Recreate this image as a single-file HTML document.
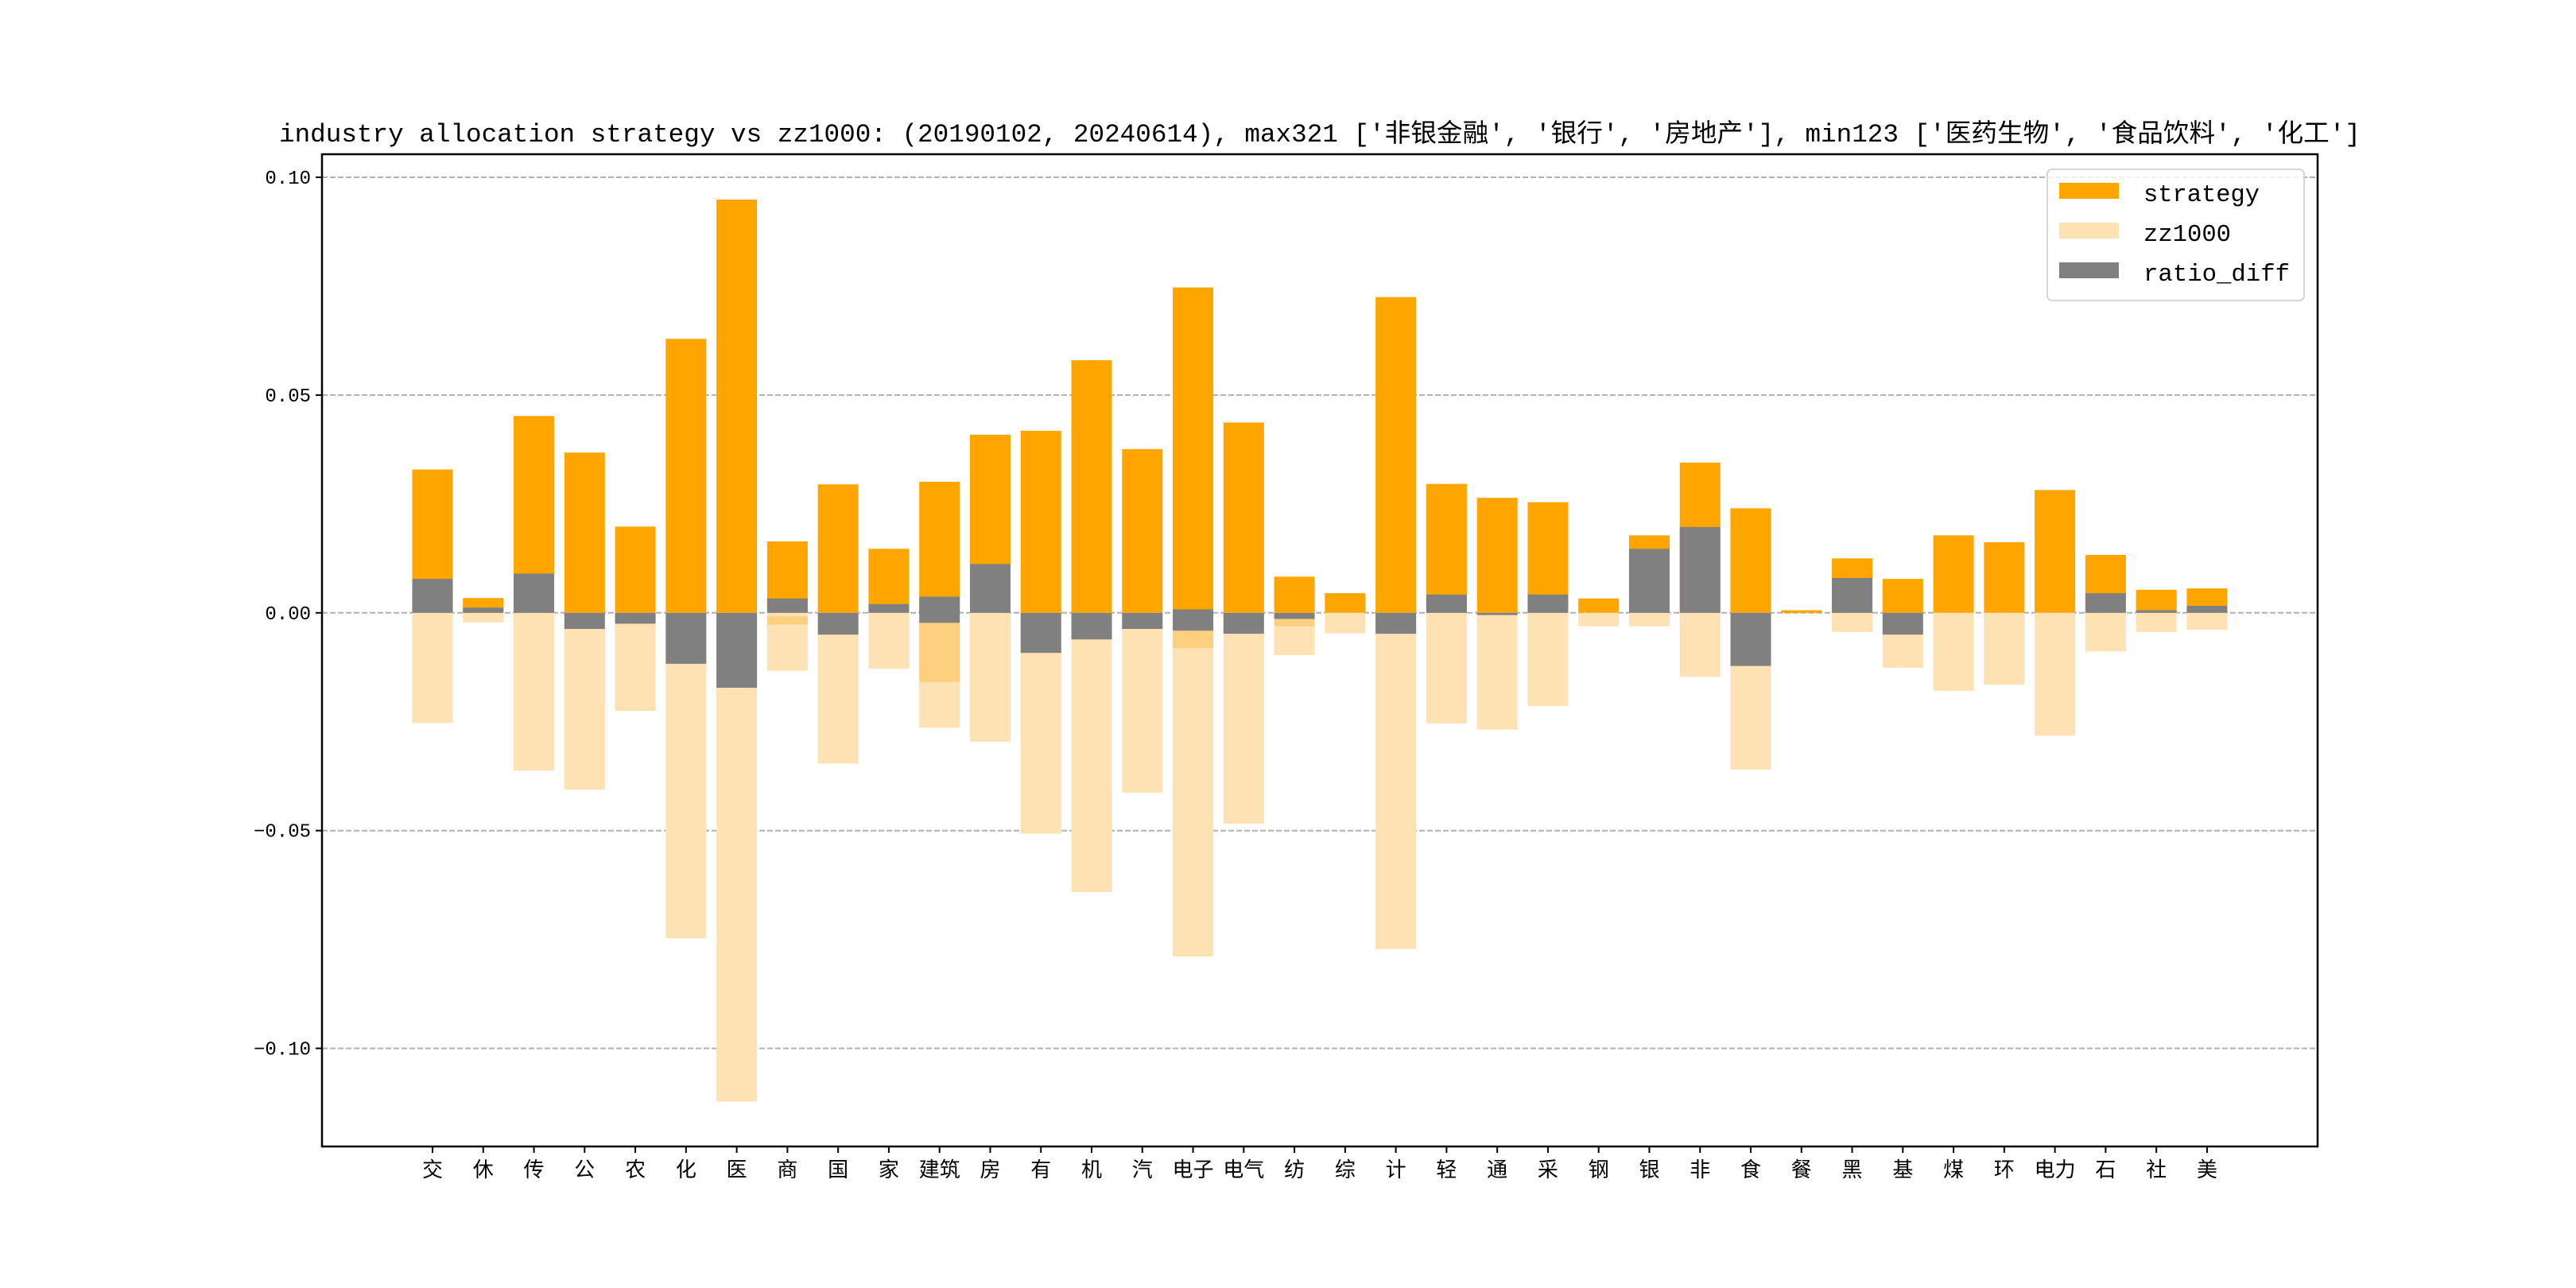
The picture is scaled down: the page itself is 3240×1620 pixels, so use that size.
<!DOCTYPE html>
<html><head><meta charset="utf-8">
<style>
html,body{margin:0;padding:0;background:#fff;}
svg{display:block;font-family:"Liberation Sans","Noto Sans CJK SC",sans-serif;}
.mono{font-family:"Liberation Mono","Noto Sans CJK SC",monospace;}
</style></head>
<body>
<svg id="chart" width="3240" height="1620" viewBox="0 0 3240 1620" xmlns="http://www.w3.org/2000/svg">
<rect width="3240" height="1620" fill="#fff"/>
<text x="1660" y="178" text-anchor="middle" font-size="32" textLength="2618" lengthAdjust="spacingAndGlyphs" font-family="'Liberation Mono','Noto Sans CJK SC',monospace">industry allocation strategy vs zz1000: (20190102, 20240614), max321 ['非银金融', '银行', '房地产'], min123 ['医药生物', '食品饮料', '化工']</text>
<g id="grid"></g>
<g id="bars"></g>
<g id="axes"></g>
<g class="mono">
<rect x="2575" y="213" width="323" height="165" rx="6" fill="#fff" fill-opacity="0.8" stroke="#d6d6d6" stroke-width="2"/>
<rect x="2590" y="230" width="75" height="20" fill="#FFA500"/>
<text x="2696" y="253" font-size="31" textLength="146" lengthAdjust="spacingAndGlyphs">strategy</text>
<rect x="2590" y="280" width="75" height="20" fill="#FEE2B3"/>
<text x="2696" y="303" font-size="31" textLength="110" lengthAdjust="spacingAndGlyphs">zz1000</text>
<rect x="2590" y="330" width="75" height="20" fill="#808080"/>
<text x="2696" y="353" font-size="31" textLength="184" lengthAdjust="spacingAndGlyphs">ratio_diff</text>
</g>
</svg>
<script>
const categories = ["交","休","传","公","农","化","医","商","国","家","建筑","房","有","机","汽","电子","电气","纺","综","计","轻","通","采","钢","银","非","食","餐","黑","基","煤","环","电力","石","社","美"];
const strategy = [0.0329,0.0034,0.0452,0.0368,0.0198,0.0629,0.0949,0.0164,0.0295,0.0147,0.0301,0.0409,0.0418,0.0580,0.0376,0.0747,0.0437,0.0083,0.0045,0.0725,0.0296,0.0264,0.0254,0.0033,0.0178,0.0345,0.0240,0.0006,0.0125,0.0078,0.0178,0.0162,0.0282,0.0133,0.0053,0.0056];
const zz1000 = [-0.0253,-0.0022,-0.0362,-0.0406,-0.0225,-0.0747,-0.1122,-0.0133,-0.0346,-0.0128,-0.0264,-0.0296,-0.0507,-0.0641,-0.0413,-0.0789,-0.0484,-0.0097,-0.0047,-0.0772,-0.0254,-0.0268,-0.0214,-0.0031,-0.0031,-0.0147,-0.0360,0,-0.0044,-0.0126,-0.0179,-0.0165,-0.0282,-0.0089,-0.0044,-0.0039];
const diffHi = [0.0078,0.0012,0.0090,0,0,0,0,0.0033,0,0.0020,0.0037,0.0112,0,0,0,0.0008,0,0,0,0,0.0042,0,0.0042,0,0.0147,0.0197,0,0,0.0080,0,0,0,0,0.0045,0.0006,0.0016];
const diffLo = [0,0,0,-0.0037,-0.0025,-0.0117,-0.0172,0,-0.0050,0,-0.0023,0,-0.0092,-0.0061,-0.0037,-0.0041,-0.0048,-0.0014,0,-0.0048,0,-0.0005,0,0,0,0,-0.0122,0,0,-0.0050,0,0,0,0,0,0];
const bandHi = [0,0,0,0,0,0,0,-0.0008,0,0,-0.0023,0,0,0,0,-0.0041,0,-0.0014,0,0,0,0,0,0,0,0,0,0,0,0,0,0,0,0,0,0];
const bandLo = [0,0,0,0,0,0,0,-0.0027,0,0,-0.0159,0,0,0,0,-0.0081,0,-0.0031,0,0,0,0,0,0,0,0,0,0,0,0,0,0,0,0,0,0];
const yTicks = [0.10,0.05,0.00,-0.05,-0.10];
const yTickLabels = ["0.10","0.05","0.00","−0.05","−0.10"];

const NS="http://www.w3.org/2000/svg";
const L=405,R=2915,T=194,B=1442;
const x0=544,dx=63.77;
function xs(i){return x0+i*dx;}
function ys(v){return 770.8-v*5478;}
const bw=dx*0.8;
function mk(tag,attrs,parent){const e=document.createElementNS(NS,tag);for(const k in attrs)e.setAttribute(k,attrs[k]);parent.appendChild(e);return e;}
const grid=document.getElementById('grid'),bars=document.getElementById('bars'),axes=document.getElementById('axes');

yTicks.forEach((v,i)=>{
  const g=mk('line',{x1:L,x2:R,y1:ys(v),y2:ys(v),stroke:'#b0b0b0','stroke-width':2,'stroke-dasharray':'7,3'},grid);
  
  
  const t=mk('line',{x1:L-8,x2:L,y1:ys(v),y2:ys(v),stroke:'#000','stroke-width':2},axes);
  
  
  const lb=mk('text',{x:L-14,y:ys(v)+8,'text-anchor':'end','font-size':24,'class':'mono'},axes);
  lb.textContent=yTickLabels[i];
  
  
});

function bar(i,a,b,fill,name){
  const top=ys(Math.max(a,b)),bot=ys(Math.min(a,b));
  if(bot-top<=0)return;
  const r=mk('rect',{x:xs(i)-bw/2,y:top,width:bw,height:bot-top,fill:fill},bars);
  
  
}
categories.forEach((c,i)=>{
  bar(i,0,strategy[i],'#FFA500','bar-strategy');
  bar(i,0,zz1000[i],'#FEE2B3','bar-zz1000');
  bar(i,bandHi[i],bandLo[i],'#FDD07F','bar-overlap');
  bar(i,diffLo[i],diffHi[i],'#808080','bar-ratio-diff');
  const t=mk('line',{x1:xs(i),x2:xs(i),y1:B,y2:B+8,stroke:'#000','stroke-width':2},axes);
  
  
  const lb=mk('text',{x:xs(i),y:B+38,'text-anchor':'middle','font-size':26,'class':'mono'},axes);
  lb.textContent=c;
  
  
});
const frame=mk('rect',{x:L,y:T,width:R-L,height:B-T,fill:'none',stroke:'#000','stroke-width':2.5},axes);


</script>
</body></html>
